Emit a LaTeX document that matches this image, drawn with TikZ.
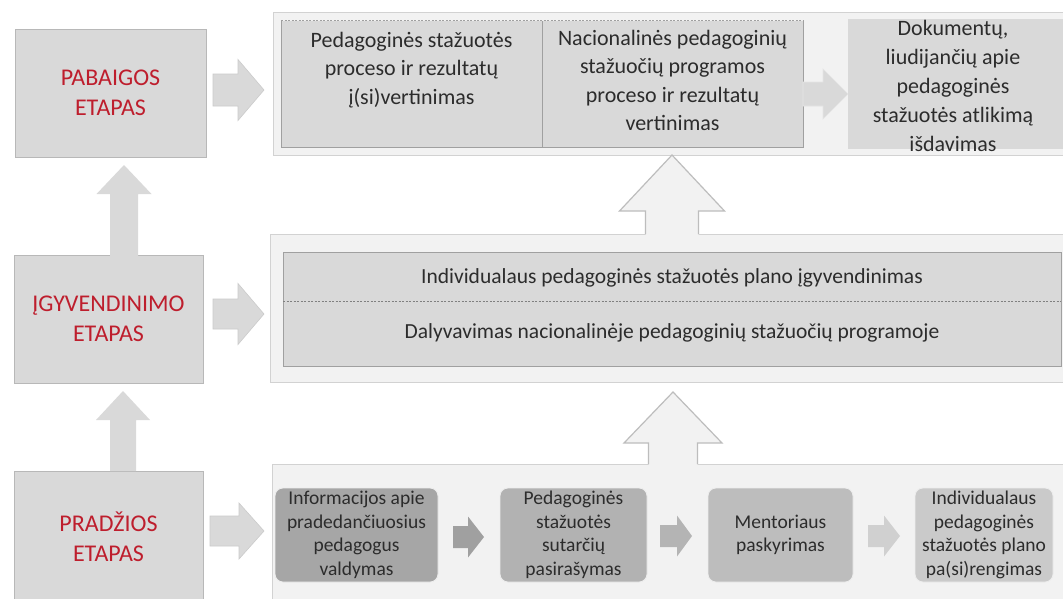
\documentclass[tikz,border=0pt]{standalone}
\usepackage{fontspec}
\setmainfont{Carlito}
\definecolor{pbg}{HTML}{F2F2F2}
\definecolor{pln}{HTML}{D2D2D2}
\definecolor{boxg}{HTML}{D9D9D9}
\definecolor{boxln}{HTML}{A0A0A0}
\definecolor{lbl}{HTML}{BE1E2D}
\definecolor{txtc}{HTML}{2C2C2C}
\definecolor{arrg}{HTML}{D9D9D9}
\definecolor{arrln}{HTML}{CBCBCB}
\definecolor{bA}{HTML}{A6A6A6}
\definecolor{bB}{HTML}{B2B2B2}
\definecolor{bC}{HTML}{BDBDBD}
\definecolor{bD}{HTML}{CACACA}
\definecolor{aA}{HTML}{A0A0A0}
\definecolor{aB}{HTML}{B4B4B4}
\definecolor{aC}{HTML}{D0D0D0}
% horizontal block arrow: style, x1, x2, yc, shaft half, head half, head length
\newcommand{\harr}[7]{\path[#1] (#2,#4-#5) -- (#3-#7,#4-#5) -- (#3-#7,#4-#6) -- (#3,#4) -- (#3-#7,#4+#6) -- (#3-#7,#4+#5) -- (#2,#4+#5) -- cycle;}
% vertical (up) block arrow: style, xc, ytip, ybottom, shaft half, head half, head length
\newcommand{\varr}[7]{\path[#1] (#2,#3) -- (#2+#6,#3+#7) -- (#2+#5,#3+#7) -- (#2+#5,#4) -- (#2-#5,#4) -- (#2-#5,#3+#7) -- (#2-#6,#3+#7) -- cycle;}
% open up arrow outline (no bottom edge)
\newcommand{\varrline}[7]{\path[#1] (#2+#5,#4) -- (#2+#5,#3+#7) -- (#2+#6,#3+#7) -- (#2,#3) -- (#2-#6,#3+#7) -- (#2-#5,#3+#7) -- (#2-#5,#4);}
\begin{document}
\begin{tikzpicture}[x=1pt,y=-1pt,
  panel/.style={fill=pbg,draw=pln,line width=1pt},
  leftbox/.style={fill=boxg,draw=boxg!85!black,line width=0.8pt,inner sep=0pt,outer sep=0pt,
     align=center,text=lbl,font=\fontsize{24}{30}\selectfont},
  topbox/.style={fill=boxg,draw=boxln,line width=0.8pt,inner sep=0pt,outer sep=0pt},
  toptext/.style={align=center,text=txtc,inner sep=0pt,font=\fontsize{22}{28.5}\selectfont},
  midtext/.style={text=txtc,inner sep=0pt,font=\fontsize{21.5}{26}\selectfont},
  botbox/.style={rounded corners=8pt,draw=white!93!black,line width=0.8pt,inner sep=0pt,outer sep=0pt,
     align=center,text=txtc,font=\fontsize{19.5}{23.5}\selectfont,minimum height=94pt},
  bigarr/.style={fill=arrg,draw=arrln,line width=0.6pt},
  uparrfill/.style={fill=pbg},
  uparrline/.style={draw=pln!90!black,line width=1.2pt,line join=miter}
]
\useasboundingbox (0,0) rectangle (1063,598);
\clip (0,0) rectangle (1063,598);
\fill[white] (0,0) rectangle (1063,598);

% ---- panels ----
\draw[panel] (273,12) rectangle (1075,155);
\draw[panel] (270,234) rectangle (1075,382);
\draw[panel] (272,464) rectangle (1075,610);

% ---- left stage boxes ----
\node[leftbox,minimum width=191pt,minimum height=128pt] (pab) at (110.5,93) {PABAIGOS\\ETAPAS};
\node[leftbox,minimum width=189pt,minimum height=128pt] (igy) at (108.5,319) {ĮGYVENDINIMO\\ETAPAS};
\node[leftbox,minimum width=189pt,minimum height=132pt] (pra) at (108.5,537) {PRADŽIOS\\ETAPAS};

% ---- vertical arrows between stages ----
\varr{bigarr,draw=none}{124}{165}{256}{14}{27.5}{29}
\varr{bigarr,draw=none}{123}{391}{471}{13}{27}{29}

% ---- arrows stage -> panel ----
\harr{bigarr}{213}{264}{90}{16}{30.5}{26}
\harr{bigarr}{213}{264}{314}{15}{30.5}{26}
\harr{bigarr}{210}{264}{531}{15}{28}{25}

% ---- top panel contents ----
\node[topbox,minimum width=261pt,minimum height=127pt] (t1) at (411.5,83.5) {};
\node[topbox,minimum width=261pt,minimum height=127pt] (t2) at (672.5,83.5) {};
\draw[pbg,line width=1pt] (t1.north west) -- (t2.north east);
\draw[boxln,line width=0.8pt,dash pattern=on 2pt off 1.5pt] (t1.north west) -- (t2.north east);
\node[toptext,anchor=north] (t1t) at (411.5,32) {Pedagoginės stažuotės\\proceso ir rezultatų\\į(si)vertinimas};
\node[toptext,anchor=north] (t2t) at (672.5,30) {Nacionalinės pedagoginių\\stažuočių programos\\proceso ir rezultatų\\vertinimas};
\node[fill=boxg,inner sep=0pt,outer sep=0pt,minimum width=220pt,minimum height=130pt] (t3) at (958,84) {};
\harr{fill=arrg,draw=white!90!black,line width=0.6pt}{803}{848}{94}{12}{25}{25}
\node[toptext,font=\fontsize{22}{29}\selectfont] (t3t) at (953,86) {Dokumentų,\\liudijančių apie\\pedagoginės\\stažuotės atlikimą\\išdavimas};

% ---- middle panel contents ----
\node[topbox,minimum width=778pt,minimum height=114pt] (m) at (672,309) {};
\draw[boxln!80!black,line width=0.8pt,dash pattern=on 2pt off 1.5pt] (283,301) -- (1061,301);
\node[midtext] (m1) at (672,278) {Individualaus pedagoginės stažuotės plano įgyvendinimas};
\node[midtext] (m2) at (672,333) {Dalyvavimas nacionalinėje pedagoginių stažuočių programoje};

% ---- big up arrows between panels ----
\varr{uparrfill}{672}{155}{235.5}{26.5}{52.5}{56}
\varrline{uparrline}{672}{155}{234}{26.5}{52.5}{56}
\varr{uparrfill}{673}{392}{465.5}{24.5}{49}{51}
\varrline{uparrline}{673}{392}{464}{24.5}{49}{51}

% ---- bottom panel contents ----
\node[botbox,fill=bA,minimum width=163pt] (b1) at (356.5,535) {Informacijos apie\\pradedančiuosius\\pedagogus\\valdymas};
\node[botbox,fill=bB,minimum width=147pt] (b2) at (573.5,535) {Pedagoginės\\stažuotės\\sutarčių\\pasirašymas};
\node[botbox,fill=bC,minimum width=145pt] (b3) at (780.5,535) {Mentoriaus\\paskyrimas};
\node[botbox,fill=bD,minimum width=138pt] (b4) at (984,535) {Individualaus\\pedagoginės\\stažuotės plano\\pa(si)rengimas};
\harr{fill=aA}{453}{484}{537}{11}{20.5}{16}
\harr{fill=aB}{660}{692}{536}{11}{20.5}{15}
\harr{fill=aC}{868}{900}{536}{11}{20.5}{16}
\end{tikzpicture}
\end{document}
